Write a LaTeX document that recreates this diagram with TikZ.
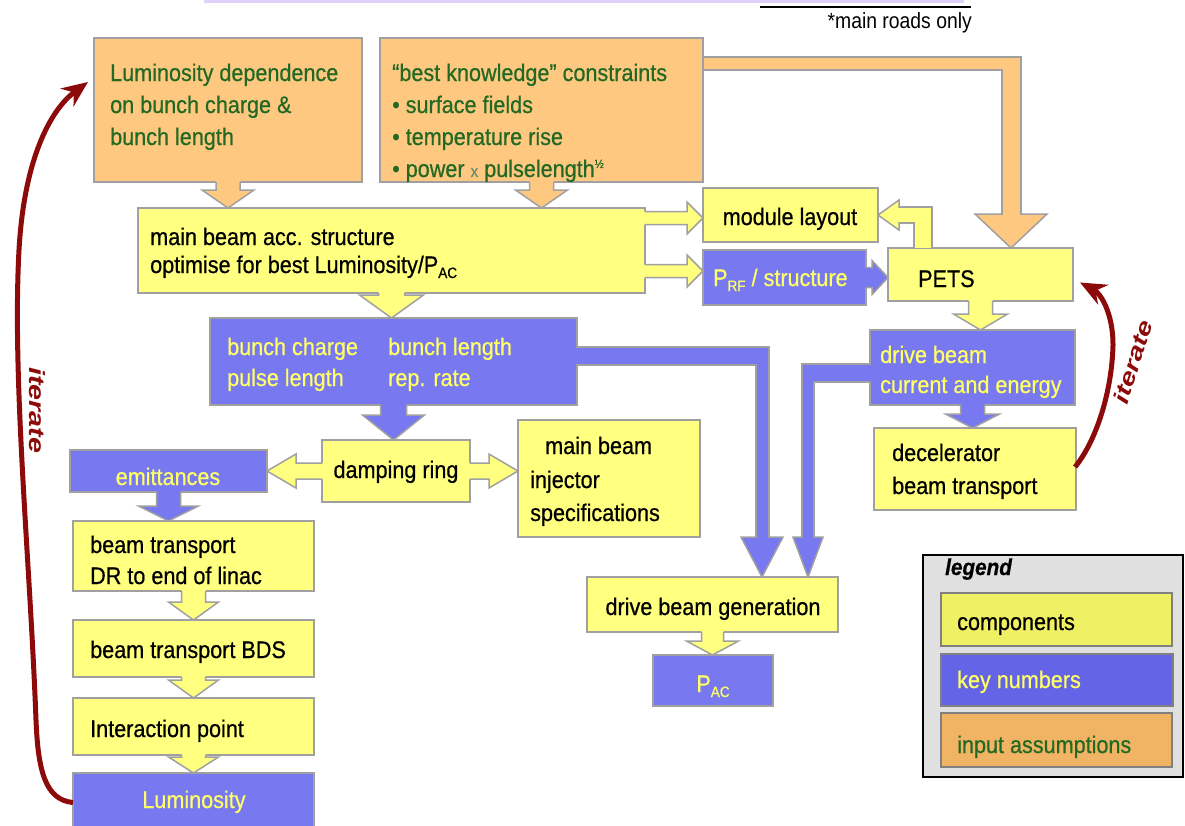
\documentclass[tikz,border=0pt]{standalone}
\usepackage{fontspec}
\setmainfont{Liberation Sans}[FakeStretch=0.9,FakeBold=0.6]
\newfontfamily\itfont{Liberation Sans}[FakeStretch=1.3]
\newfontfamily\notefont{Liberation Sans}[FakeStretch=0.88]
\usetikzlibrary{calc,arrows.meta}
\definecolor{orF}{RGB}{255,200,128}
\definecolor{yeF}{RGB}{255,255,128}
\definecolor{blF}{RGB}{120,120,240}
\definecolor{edgeC}{RGB}{160,160,160}
\definecolor{grT}{RGB}{35,105,35}
\definecolor{yeT}{RGB}{255,255,102}
\definecolor{itC}{RGB}{140,10,10}
\definecolor{lgBg}{RGB}{224,224,224}
\definecolor{lgYe}{RGB}{240,240,100}
\definecolor{lgBl}{RGB}{100,100,230}
\definecolor{lgOr}{RGB}{240,180,100}
\definecolor{topBar}{RGB}{222,208,250}
\definecolor{xC}{RGB}{110,140,110}
\newcommand\fs[2]{\fontsize{#1}{#2}\selectfont}
\newcommand\lowsub[1]{\raisebox{-5pt}{\fs{15}{15}#1}}
\newcommand\bx[6]{\node[#2,minimum width={#5-#3},minimum height={#6-#4}] (#1) at (#3,#4) {};}
\newcommand\tx[4]{\node[#1] (#2) at (#3) {#4};}
% straight block arrows: #1 start, #2 end, #3 fill, #4 shaft half, #5 head half, #6 head length
\newcommand\darrow[6]{%
 \fill[#3] let \p1=#1, \p2=#2 in (\x1-#4,\y1+1pt) -- (\x1-#4,\y2+#6) -- (\x1-#5,\y2+#6) -- (\x1,\y2) -- (\x1+#5,\y2+#6) -- (\x1+#4,\y2+#6) -- (\x1+#4,\y1+1pt) -- cycle;
 \draw[arrowedge] let \p1=#1, \p2=#2 in (\x1-#4,\y1) -- (\x1-#4,\y2+#6) -- (\x1-#5,\y2+#6) -- (\x1,\y2) -- (\x1+#5,\y2+#6) -- (\x1+#4,\y2+#6) -- (\x1+#4,\y1);}
\newcommand\rarrow[6]{%
 \fill[#3] let \p1=#1, \p2=#2 in (\x1-1pt,\y1+#4) -- (\x2-#6,\y1+#4) -- (\x2-#6,\y1+#5) -- (\x2,\y1) -- (\x2-#6,\y1-#5) -- (\x2-#6,\y1-#4) -- (\x1-1pt,\y1-#4) -- cycle;
 \draw[arrowedge] let \p1=#1, \p2=#2 in (\x1,\y1+#4) -- (\x2-#6,\y1+#4) -- (\x2-#6,\y1+#5) -- (\x2,\y1) -- (\x2-#6,\y1-#5) -- (\x2-#6,\y1-#4) -- (\x1,\y1-#4);}
\newcommand\larrow[6]{%
 \fill[#3] let \p1=#1, \p2=#2 in (\x1+1pt,\y1+#4) -- (\x2+#6,\y1+#4) -- (\x2+#6,\y1+#5) -- (\x2,\y1) -- (\x2+#6,\y1-#5) -- (\x2+#6,\y1-#4) -- (\x1+1pt,\y1-#4) -- cycle;
 \draw[arrowedge] let \p1=#1, \p2=#2 in (\x1,\y1+#4) -- (\x2+#6,\y1+#4) -- (\x2+#6,\y1+#5) -- (\x2,\y1) -- (\x2+#6,\y1-#5) -- (\x2+#6,\y1-#4) -- (\x1,\y1-#4);}
\newcommand\headD[4]{\filldraw[arrowedge,fill=#2] let \p1=#1 in (\x1,\y1) -- (\x1-#3,\y1+#4) -- (\x1+#3,\y1+#4) -- cycle;}
\newcommand\headL[4]{\filldraw[arrowedge,fill=#2] let \p1=#1 in (\x1,\y1) -- (\x1+#4,\y1+#3) -- (\x1+#4,\y1-#3) -- cycle;}
\begin{document}
\begin{tikzpicture}[x=1pt,y=-1pt,
 box/.style={rectangle,draw=edgeC,line width=2pt,inner sep=0pt,outer sep=0pt,anchor=north west},
 orbox/.style={box,fill=orF}, yebox/.style={box,fill=yeF}, blbox/.style={box,fill=blF},
 lgbox/.style={box,draw=gray,line width=1.2pt},
 txt/.style={anchor=base west,inner sep=0pt,font=\fs{24}{28}},
 ctxt/.style={txt,anchor=base},
 gtxt/.style={txt,text=grT}, ytxt/.style={txt,text=yeT},
 arrowedge/.style={draw=edgeC,line width=1.5pt,line join=miter},
 itarrow/.style={draw=itC,line width=5pt,-{Stealth[length=26pt,width=22pt]}},
 ittxt/.style={text=itC,inner sep=0pt,font=\itfont\bfseries\itshape\fs{22}{22}},
]
\useasboundingbox (0,0) rectangle (1185,825);
% top remnants
\fill[topBar] (204,0) rectangle (964,3);
\draw[black,line width=2pt] (760,7) -- (971,7);
\tx{txt,anchor=base east,font=\notefont\fs{22}{22}}{note}{972,28}{*main roads only}

% ---- bent connectors (drawn first) ----
% best knowledge -> PETS (orange)
\coordinate (o1) at (703,63);
\coordinate (o3) at (1011,248);
\coordinate (k0) at (o3 |- o1);
\coordinate (o2) at ($(o3)+(0,-34)$);
\draw[edgeC,line width=15pt] (o1) -- ($(k0)+(10.5,0)$);
\draw[edgeC,line width=21pt] ($(k0)+(0,-7.5)$) -- (o2);
\draw[orF,line width=11pt] (o1) -- ($(k0)+(8.5,0)$);
\draw[orF,line width=17pt] ($(k0)+(0,-5.5)$) -- (o2);
\headD{(o3)}{orF}{36pt}{34pt}
\draw[orF,line width=17pt] ($(o2)+(0,-3)$) -- ($(o2)+(0,1.5)$);

% boxes
\bx{lumdep}{orbox}{94}{38}{362}{182}
\bx{bk}{orbox}{380}{38}{703}{182}
\bx{main}{yebox}{138}{208}{645}{293}
\bx{mod}{yebox}{703}{188}{878}{242}
\bx{prf}{blbox}{703}{250}{866}{305}
\bx{pets}{yebox}{888}{248}{1073}{301}
\bx{bc}{blbox}{210}{318}{577}{405}
\bx{db}{blbox}{870}{330}{1075}{405}
\bx{dr}{yebox}{322}{440}{470}{502}
\bx{inj}{yebox}{518}{420}{700}{537}
\bx{decel}{yebox}{874}{428}{1076}{510}
\bx{emit}{blbox}{70}{450}{267}{492}
\bx{btdr}{yebox}{73}{521}{314}{591}
\bx{bds}{yebox}{73}{620}{314}{677}
\bx{ip}{yebox}{73}{698}{314}{755}
\bx{lumi}{blbox}{73}{773}{314}{832}
\bx{dbg}{yebox}{587}{577}{838}{632}
\bx{pac}{blbox}{653}{655}{773}{706}
% legend
\bx{legend}{box,draw=black,line width=1.2pt,fill=lgBg}{923}{555}{1183}{777}
\bx{lgc}{lgbox,fill=lgYe}{941}{593}{1172}{646}
\bx{lgk}{lgbox,fill=lgBl}{941}{654}{1173}{706}
\bx{lgi}{lgbox,fill=lgOr}{941}{713}{1172}{767}

% PETS -> module layout (yellow, bent)
\coordinate (p1) at ($(pets.north west)+(35,1)$);
\coordinate (p3) at (mod.east);
\coordinate (k3) at (p1 |- p3);
\coordinate (p2) at ($(p3)+(21,0)$);
\draw[edgeC,line width=20pt] (p1) -- ($(k3)+(0,-9)$);
\draw[edgeC,line width=18pt] ($(k3)+(10,0)$) -- (p2);
\draw[yeF,line width=16pt] ($(p1)+(0,-1)$) -- ($(k3)+(0,-7)$);
\draw[yeF,line width=14pt] ($(k3)+(8,0)$) -- (p2);
\headL{(p3)}{yeF}{15pt}{21pt}
\draw[yeF,line width=14pt] ($(p2)+(3,0)$) -- ($(p2)+(-1.5,0)$);

% bunch charge -> drive beam generation (blue, bent)
\coordinate (b1) at ($(bc.east)+(-1,-6)$);
\coordinate (b3) at ($(dbg.north west)+(175,0)$);
\coordinate (k1) at (b3 |- b1);
\coordinate (b2) at ($(b3)+(0,-40)$);
\draw[edgeC,line width=20pt] (b1) -- ($(k1)+(7.5,0)$);
\draw[edgeC,line width=15pt] ($(k1)+(0,-10)$) -- (b2);
\draw[blF,line width=16pt] (b1) -- ($(k1)+(5.5,0)$);
\draw[blF,line width=11pt] ($(k1)+(0,-8)$) -- (b2);
\headD{(b3)}{blF}{21pt}{40pt}
\draw[blF,line width=11pt] ($(b2)+(0,-3)$) -- ($(b2)+(0,1.5)$);

% drive beam -> drive beam generation (blue, bent)
\coordinate (c1) at ($(db.west)+(1,5)$);
\coordinate (c3) at ($(dbg.north west)+(221,0)$);
\coordinate (k2) at (c3 |- c1);
\coordinate (c2) at ($(c3)+(0,-40)$);
\draw[edgeC,line width=20pt] (c1) -- ($(k2)+(-7,0)$);
\draw[edgeC,line width=14pt] ($(k2)+(0,-10)$) -- (c2);
\draw[blF,line width=16pt] (c1) -- ($(k2)+(-5,0)$);
\draw[blF,line width=10pt] ($(k2)+(0,-8)$) -- (c2);
\headD{(c3)}{blF}{15pt}{40pt}
\draw[blF,line width=10pt] ($(c2)+(0,-3)$) -- ($(c2)+(0,1.5)$);

% straight block arrows
\darrow{(lumdep.south)}{(main.north)}{orF}{12pt}{26pt}{18pt}
\darrow{(bk.south)}{(main.north)}{orF}{12pt}{26pt}{18pt}
\rarrow{($(main.north east)+(0,10)$)}{(mod.west)}{yeF}{6.5pt}{16pt}{16pt}
\rarrow{($(main.north east)+(0,63)$)}{(prf.west)}{yeF}{6.5pt}{16pt}{16pt}
\rarrow{(prf.east)}{(pets.west)}{blF}{10pt}{17pt}{16pt}
\darrow{(pets.south)}{(db.north)}{yeF}{12pt}{27pt}{16pt}
\darrow{(main.south)}{(bc.north)}{yeF}{13pt}{32pt}{23pt}
\darrow{(bc.south)}{(dr.north)}{blF}{13pt}{31pt}{25pt}
\larrow{(dr.west)}{(emit.east)}{yeF}{8pt}{17pt}{29pt}
\rarrow{(dr.east)}{(inj.west)}{yeF}{8pt}{17pt}{29pt}
\darrow{(emit.south)}{(btdr.north)}{blF}{12pt}{30pt}{15pt}
\darrow{(db.south)}{(decel.north)}{blF}{12pt}{27pt}{14pt}
\darrow{(btdr.south)}{(bds.north)}{yeF}{12pt}{25pt}{18pt}
\darrow{(bds.south)}{(ip.north)}{yeF}{12pt}{25pt}{18pt}
\darrow{(ip.south)}{(lumi.north)}{yeF}{12pt}{25pt}{16pt}
\darrow{(dbg.south)}{(pac.north)}{yeF}{11pt}{26pt}{14pt}

% texts
\tx{gtxt}{t1}{110,81}{Luminosity dependence}
\tx{gtxt}{t2}{110,113}{on bunch charge \&}
\tx{gtxt}{t3}{110,145}{bunch length}
\tx{gtxt}{t4}{392,81}{“best knowledge” constraints}
\tx{gtxt}{t5}{392,113}{• surface fields}
\tx{gtxt}{t6}{392,145}{• temperature rise}
\tx{gtxt}{t7}{392,177}{• power {\color{xC}\fs{17}{17}x} pulselength\raisebox{9pt}{\fs{12}{12}½}}
\tx{txt}{t8}{150,245}{main beam acc. structure}
\tx{txt}{t9}{150,273}{optimise for best Luminosity/P\lowsub{AC}}
\tx{ctxt}{t10}{790,225}{module layout}
\tx{ytxt}{t11}{713,286}{P\lowsub{RF} / structure}
\tx{txt}{t12}{918,287}{PETS}
\tx{ytxt}{t13}{227,355}{bunch charge}
\tx{ytxt}{t14}{227,386}{pulse length}
\tx{ytxt}{t15}{388,355}{bunch length}
\tx{ytxt}{t16}{388,386}{rep. rate}
\tx{ytxt}{t17}{880,363}{drive beam}
\tx{ytxt}{t18}{880,393}{current and energy}
\tx{txt}{t19}{892,461}{decelerator}
\tx{txt}{t20}{892,494}{beam transport}
\tx{ctxt}{t21}{396,478}{damping ring}
\tx{txt}{t22}{545,454}{main beam}
\tx{txt}{t23}{530,488}{injector}
\tx{txt}{t24}{530,521}{specifications}
\tx{ctxt,text=yeT}{t25}{168,485}{emittances}
\tx{txt}{t26}{90,553}{beam transport}
\tx{txt}{t27}{90,584}{DR to end of linac}
\tx{txt}{t28}{90,658}{beam transport BDS}
\tx{txt}{t29}{90,737}{Interaction point}
\tx{ctxt,text=yeT}{t30}{194,808}{Luminosity}
\tx{ctxt}{t31}{713,615}{drive beam generation}
\tx{ctxt,text=yeT}{t32}{713,692}{P\lowsub{AC}}
\tx{txt,font=\bfseries\itshape\fs{23}{23}}{t33}{945,575}{legend}
\tx{txt}{t34}{957,630}{components}
\tx{ytxt}{t35}{957,688}{key numbers}
\tx{gtxt}{t36}{957,753}{input assumptions}

% iterate arrows
\coordinate (tipL) at ($(lumdep.west)+(-6,-28)$);
\draw[itarrow] (lumi.west) .. controls (45,800) and (38,770) .. (36,720)
  .. controls (30,560) and (12,380) .. (19,250)
  .. controls (24,160) and (50,110) .. (tipL);
\node[ittxt,rotate=-90] (itL) at (37,410) {iterate};
\coordinate (sR) at ($(decel.east)+(-1,-2)$);
\coordinate (tipR) at ($(pets.east)+(7,8)$);
\draw[itarrow] (sR) .. controls (1097,440) and (1112,390) .. (1113,345)
  .. controls (1113,312) and (1100,293) .. (tipR);
\node[ittxt,rotate=72] (itR) at (1133,362) {iterate};
\end{tikzpicture}
\end{document}
